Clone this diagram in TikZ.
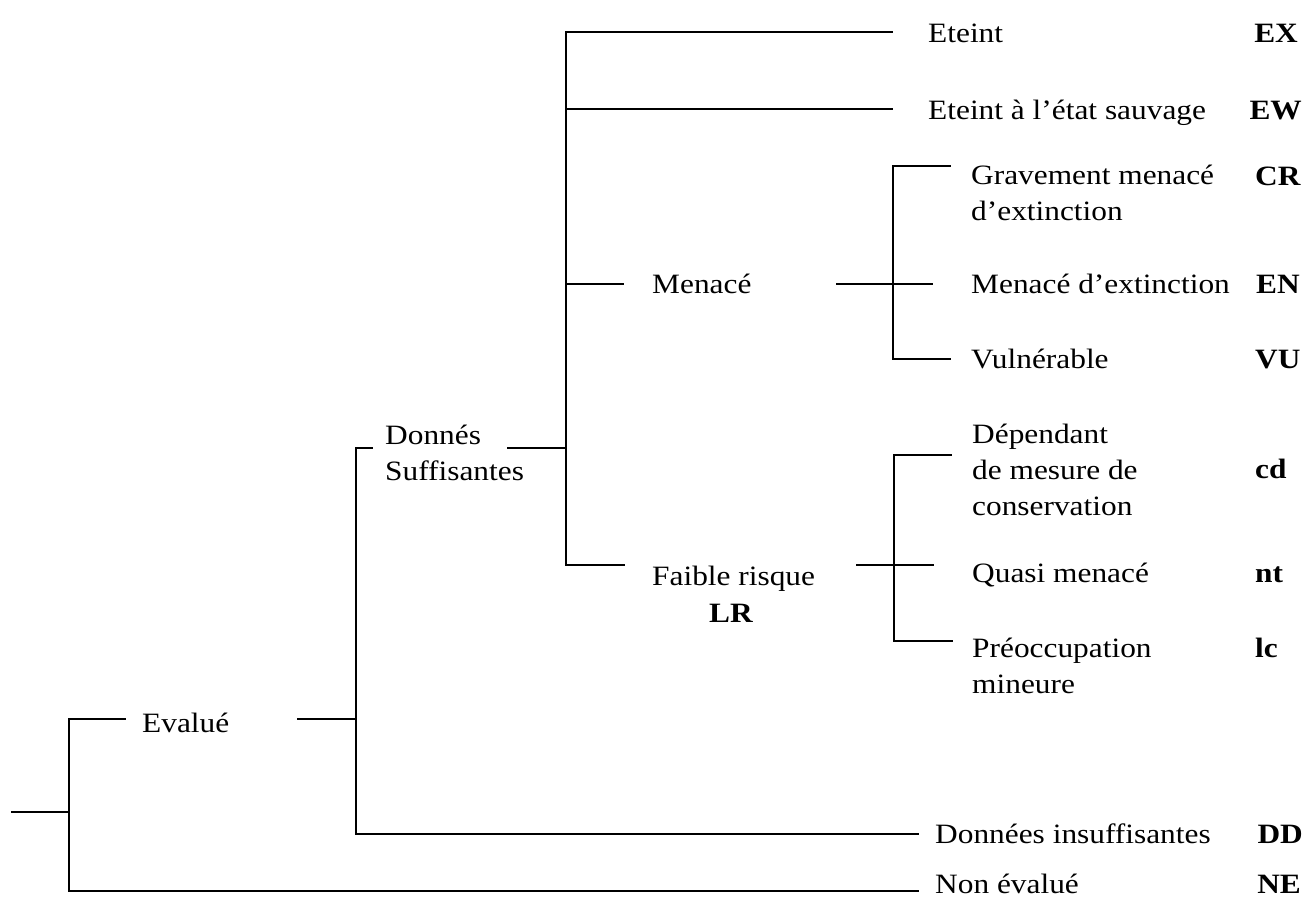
\documentclass[tikz,border=0pt]{standalone}
\usepackage{fontspec}
\setmainfont{Liberation Serif}[FakeStretch=1.12]
\begin{document}
\begin{tikzpicture}[x=1pt,y=-1pt,
  txt/.style={anchor=base west,inner sep=0pt,align=left,font=\fontsize{28}{36}\selectfont},
  code/.style={anchor=base west,inner sep=0pt,font=\fontsize{28}{36}\selectfont\bfseries},
  rcode/.style={code,anchor=base east},
  link/.style={line width=1.5pt,line cap=rect}]
\useasboundingbox (0,0) rectangle (1308,898);
% texts (multi-line nodes are placed by the baseline of their last line)
\node[txt] (evalue) at (142,732) {Evalué};
\node[txt] (ds) at (385,480) {Donnés\\Suffisantes};
\node[txt] (menace) at (652,293) {Menacé};
\node[txt] (faible) at (652,585) {Faible risque};
\node[code,anchor=base] (lr) at (731,622) {LR};
\node[txt] (ex) at (928,42) {Eteint};
\node[txt] (ew) at (928,119) {Eteint à l’état sauvage};
\node[txt] (cr) at (971,220) {Gravement menacé\\d’extinction};
\node[txt] (en) at (971,293) {Menacé d’extinction};
\node[txt] (vu) at (971,368) {Vulnérable};
\node[txt] (cd) at (972,515) {Dépendant\\de mesure de\\conservation};
\node[txt] (nt) at (972,582) {Quasi menacé};
\node[txt] (lc) at (972,693) {Préoccupation\\mineure};
\node[txt] (dd) at (935,843) {Données insuffisantes};
\node[txt] (ne) at (935,893) {Non évalué};
\node[rcode] (cEX) at (1298,42) {EX};
\node[rcode] (cEW) at (1302,119) {EW};
\node[code] (cCR) at (1255,185) {CR};
\node[code] (cEN) at (1256,293) {EN};
\node[code] (cVU) at (1255,368) {VU};
\node[code] (ccd) at (1255,478) {cd};
\node[code] (cnt) at (1255,582) {nt};
\node[code] (clc) at (1255,657) {lc};
\node[rcode] (cDD) at (1303,843) {DD};
\node[rcode] (cNE) at (1301,893) {NE};
% junction coordinates
\coordinate (r0) at (12,812);
\coordinate (v1a) at (69,719);
\coordinate (v1m) at (69,812);
\coordinate (v1b) at (69,891);
\coordinate (e1) at (125,719);
\coordinate (e2) at (298,719);
\coordinate (v2a) at (356,448);
\coordinate (v2m) at (356,719);
\coordinate (v2b) at (356,834);
\coordinate (d1) at (372,448);
\coordinate (d2) at (508,448);
\coordinate (v3a) at (566,32);
\coordinate (v3e) at (566,109);
\coordinate (v3m) at (566,284);
\coordinate (v3d) at (566,448);
\coordinate (v3b) at (566,565);
\coordinate (exe) at (892,32);
\coordinate (ewe) at (892,109);
\coordinate (m1) at (623,284);
\coordinate (m2) at (837,284);
\coordinate (v4a) at (893,166);
\coordinate (v4m) at (893,284);
\coordinate (v4b) at (893,359);
\coordinate (cre) at (950,166);
\coordinate (ene) at (932,284);
\coordinate (vue) at (950,359);
\coordinate (f1) at (624,565);
\coordinate (f2) at (857,565);
\coordinate (v5a) at (894,455);
\coordinate (v5m) at (894,565);
\coordinate (v5b) at (894,641);
\coordinate (cde) at (951,455);
\coordinate (nte) at (933,565);
\coordinate (lce) at (952,641);
\coordinate (dde) at (918,834);
\coordinate (nee) at (918,891);
% connectors
\draw[link] (r0) -- (v1m);
\draw[link] (e1) -- (v1a) -- (v1b) -- (nee);
\draw[link] (e2) -- (v2m);
\draw[link] (d1) -- (v2a) -- (v2b) -- (dde);
\draw[link] (d2) -- (v3d);
\draw[link] (exe) -- (v3a) -- (v3b) -- (f1);
\draw[link] (v3e) -- (ewe);
\draw[link] (v3m) -- (m1);
\draw[link] (m2) -- (ene);
\draw[link] (cre) -- (v4a) -- (v4b) -- (vue);
\draw[link] (f2) -- (nte);
\draw[link] (cde) -- (v5a) -- (v5b) -- (lce);
\end{tikzpicture}
\end{document}
